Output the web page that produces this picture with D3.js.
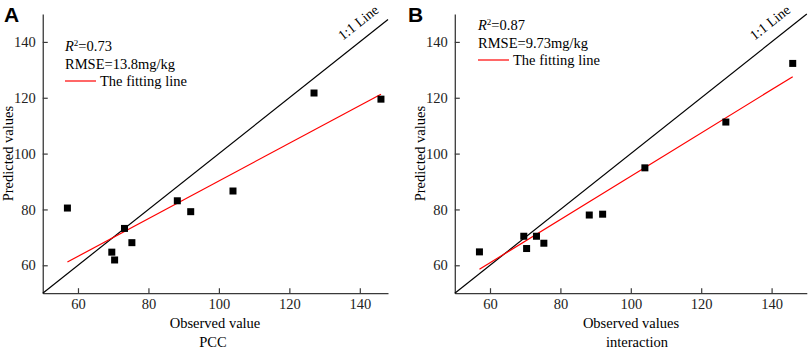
<!DOCTYPE html>
<html>
<head>
<meta charset="utf-8">
<script src="https://cdn.jsdelivr.net/npm/d3@7"></script>
<style>
  body { margin: 0; background: #fff; }
  text { font-family: "Liberation Serif", "Times New Roman", serif; }
</style>
</head>
<body>
<div id="chart"></div>
<script>
"use strict";

// observed values (shared by both panels)
const observed = [57.0, 69.6, 70.4, 73.2, 75.3, 88.2, 92.0, 104.0, 127.0, 146.0];
// predicted values
const predictedPCC = [80.5, 64.7, 61.9, 73.2, 68.1, 83.1, 79.2, 86.6, 121.7, 119.5];
const predictedInteraction = [64.8, 70.4, 66.0, 70.4, 67.9, 78.0, 78.3, 94.9, 111.3, 132.3];
// fitting lines: [slope, intercept]
const fitPCC = [0.675, 22.7];
const fitInteraction = [0.775, 14.4];
const fitRange = [57, 146];
const xTicks = [60, 80, 100, 120, 140];
const yTicks = [60, 80, 100, 120, 140];

const svgWidth = 809,
    svgHeight = 351;

const svg = d3.select("#chart").append("svg")
    .attr("width", svgWidth)
    .attr("height", svgHeight);

const panels = [
    {
        letter: "A", predicted: predictedPCC, fit: fitPCC,
        r2: "0.73", rmse: "RMSE=13.8mg/kg",
        xTitle: "Observed value", sub: "PCC",
        left: 42.75, right: 388, xMax: 148,
        textX: 65, r2Y: 51, letterX: 4,
        titleX: 215, subX: 213
    },
    {
        letter: "B", predicted: predictedInteraction, fit: fitInteraction,
        r2: "0.87", rmse: "RMSE=9.73mg/kg",
        xTitle: "Observed values", sub: "interaction",
        left: 454.8, right: 806.8, xMax: 150,
        textX: 478, r2Y: 30, letterX: 408,
        titleX: 631, subX: 637
    }
];

const plotTop = 14, plotBottom = 293.2;
const axisColor = "#3a3a3a";

panels.forEach(p => {
    const x = d3.scaleLinear().domain([50, p.xMax]).range([p.left, p.right]);
    const y = d3.scaleLinear().domain([50, 150]).range([plotBottom, plotTop]);

    const g = svg.append("g");

    // axes
    const xAxis = g.append("g")
        .attr("transform", `translate(0,${plotBottom})`)
        .call(d3.axisBottom(x).tickValues(xTicks).tickSizeInner(-5).tickSizeOuter(0).tickPadding(6));
    const yAxis = g.append("g")
        .attr("transform", `translate(${p.left},0)`)
        .call(d3.axisLeft(y).tickValues(yTicks).tickSizeInner(-5).tickSizeOuter(0).tickPadding(7));

    [xAxis, yAxis].forEach(a => {
        a.attr("font-family", "Liberation Serif").attr("font-size", 14.5);
        a.select(".domain").attr("stroke", axisColor).attr("stroke-width", 1.3);
        a.selectAll(".tick line").attr("stroke", axisColor).attr("stroke-width", 1.2);
        a.selectAll(".tick text").attr("fill", "#222");
    });

    // 1:1 line
    g.append("line")
        .attr("x1", x(50)).attr("y1", y(50))
        .attr("x2", x(p.xMax)).attr("y2", y(p.xMax))
        .attr("stroke", "#000")
        .attr("stroke-width", 1.2);

    const angle = Math.atan2(y(50) - y(100), x(100) - x(50)) * 180 / Math.PI;
    const lx = x(139.5), ly = y(139.5) - 21;
    g.append("text")
        .attr("transform", `translate(${lx},${ly}) rotate(${-angle})`)
        .attr("text-anchor", "middle")
        .attr("dy", "0.35em")
        .style("font-size", "14px")
        .text("1:1 Line");

    // fitting line
    const fitLine = d3.line().x(d => x(d)).y(d => y(p.fit[0] * d + p.fit[1]));
    g.append("path")
        .attr("d", fitLine(fitRange))
        .attr("fill", "none")
        .attr("stroke", "#ff0000")
        .attr("stroke-width", 1.2);

    // points
    g.selectAll("rect.pt")
        .data(observed.map((o, i) => [o, p.predicted[i]]))
        .enter()
        .append("rect")
        .attr("class", "pt")
        .attr("x", d => x(d[0]) - 3.5)
        .attr("y", d => y(d[1]) - 3.5)
        .attr("width", 7)
        .attr("height", 7)
        .attr("fill", "#000");

    // annotations
    const r2 = g.append("text")
        .attr("x", p.textX).attr("y", p.r2Y)
        .style("font-size", "14.5px");
    r2.append("tspan").style("font-style", "italic").text("R");
    r2.append("tspan").attr("dy", -5).style("font-size", "9px").text("2");
    r2.append("tspan").attr("dy", 5).text("=" + p.r2);

    g.append("text")
        .attr("x", p.textX).attr("y", p.r2Y + 18)
        .style("font-size", "14.5px")
        .text(p.rmse);

    g.append("line")
        .attr("x1", p.textX).attr("x2", p.textX + 31)
        .attr("y1", p.r2Y + 30).attr("y2", p.r2Y + 30)
        .attr("stroke", "#ff0000")
        .attr("stroke-width", 1.2);
    g.append("text")
        .attr("x", p.textX + 35).attr("y", p.r2Y + 35)
        .style("font-size", "14.5px")
        .text("The fitting line");

    // axis titles
    g.append("text")
        .attr("x", p.titleX).attr("y", 328)
        .attr("text-anchor", "middle")
        .style("font-size", "14.5px")
        .text(p.xTitle);
    g.append("text")
        .attr("x", p.subX).attr("y", 347)
        .attr("text-anchor", "middle")
        .style("font-size", "14.5px")
        .text(p.sub);
    g.append("text")
        .attr("transform", `translate(${p.left - 30},${(plotTop + plotBottom) / 2}) rotate(-90)`)
        .attr("text-anchor", "middle")
        .style("font-size", "14.5px")
        .text("Predicted values");

    // panel letter
    g.append("text")
        .attr("x", p.letterX).attr("y", 22)
        .style("font-family", "Liberation Sans, Arial, sans-serif")
        .style("font-weight", "bold")
        .style("font-size", "21px")
        .text(p.letter);
});
</script>
</body>
</html>
